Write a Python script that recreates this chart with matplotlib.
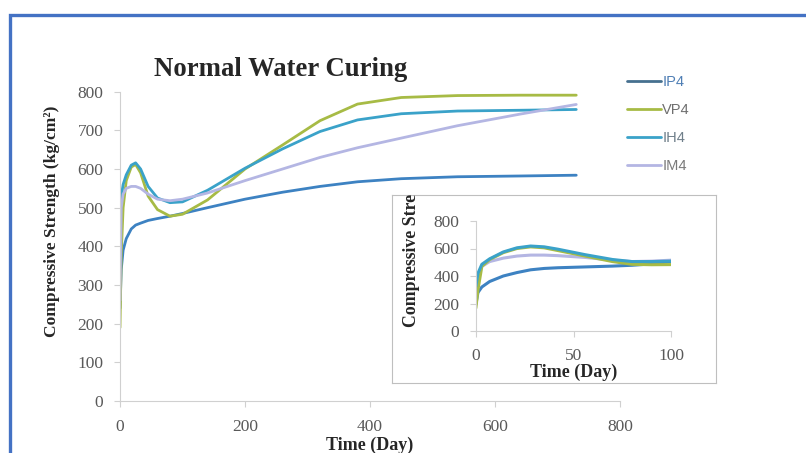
import matplotlib
matplotlib.use("Agg")
import matplotlib.pyplot as plt
from matplotlib.patches import Rectangle

# main chart data
days = [0, 2, 5, 10, 18, 25, 33, 45, 60, 80, 100, 140, 200, 260, 320, 380, 450, 540, 640, 730]
ip4 = [240, 340, 390, 420, 445, 455, 460, 467, 472, 478, 485, 500, 522, 540, 555, 567, 575, 580, 582, 584]
vp4 = [190, 380, 500, 570, 605, 612, 590, 530, 495, 478, 483, 520, 600, 662, 725, 768, 785, 790, 791, 791]
ih4 = [480, 530, 560, 585, 610, 616, 600, 555, 525, 513, 515, 545, 602, 652, 697, 727, 743, 750, 752, 754]
im4 = [260, 500, 535, 550, 555, 555, 550, 535, 522, 518, 522, 538, 570, 600, 630, 655, 680, 712, 742, 767]

# inset (first 100 days)
days_in = [0, 1, 3, 7, 14, 21, 28, 35, 42, 56, 70, 80, 90, 100]
ip4_in = [200, 280, 320, 360, 400, 425, 445, 455, 460, 466, 472, 478, 488, 505]
vp4_in = [175, 300, 470, 520, 570, 600, 612, 605, 585, 545, 505, 485, 482, 483]
ih4_in = [330, 420, 485, 525, 575, 605, 618, 612, 595, 555, 520, 505, 505, 508]
im4_in = [300, 400, 470, 505, 530, 545, 552, 552, 548, 535, 515, 505, 508, 515]

names = ["IP4", "VP4", "IH4", "IM4"]
colors = ["#3d82c2", "#a7bb45", "#3aa2c9", "#b4b6e3"]
legend_text = ["#4f7fb5", "#6f6f6f", "#6f7f8a", "#7a7a7a"]

serif = "Liberation Serif"
gray = "#595959"
spine = "#d0d0d0"
dark = "#262626"

W, H = 806, 453
fig = plt.figure(figsize=(W / 100, H / 100), dpi=100)

# blue frame (only top and left visible)
fig.add_artist(Rectangle((9.5 / W, -0.1), 1.2, 1 - 15 / H + 0.1, transform=fig.transFigure,
                         fill=False, edgecolor="#4472c4", lw=2.4))

ax = fig.add_axes([120 / W, 1 - 401 / H, 500 / W, 309.3 / H])
main_series = [ip4, vp4, ih4, im4]
for name, ys, c in zip(names, main_series, colors):
    ax.plot(days, ys, color=c, lw=2.0, label=name, solid_capstyle="round")
ax.set_xlim(0, 800)
ax.set_ylim(0, 800)
ax.set_xticks([0, 200, 400, 600, 800])
ax.set_yticks(range(0, 801, 100))
for s in ["top", "right"]:
    ax.spines[s].set_visible(False)
for s in ["left", "bottom"]:
    ax.spines[s].set_color(spine)
ax.tick_params(colors=spine, length=4, labelcolor=gray, labelsize=12.5)
ax.tick_params(axis="x", pad=9)
ax.tick_params(axis="y", pad=8)
for lab in ax.get_xticklabels() + ax.get_yticklabels():
    lab.set_fontfamily(serif)

fig.text(281 / W, 1 - 69 / H, "Normal Water Curing", family=serif, weight="bold",
         size=19.3, color=dark, ha="center", va="center")
ax.set_xlabel("Time (Day)", family=serif, weight="bold", size=13, color=dark)
ax.xaxis.set_label_coords(0.5, -0.115)
ax.set_ylabel("Compressive Strength (kg/cm²)", family=serif, weight="bold", size=12.5, color=dark)
ax.yaxis.set_label_coords(-0.12, 0.58)

leg = fig.legend(loc="upper left", bbox_to_anchor=(614 / W, 1 - 62 / H), frameon=False,
                 prop={"family": "Liberation Sans", "size": 10.5}, handlelength=2.3,
                 handletextpad=0.1, labelspacing=0.95)
for t, c in zip(leg.get_texts(), legend_text):
    t.set_color(c)
leg.get_lines()[0].set_color("#46708f")

# inset box
box = [392 / W, 1 - 383 / H, 324 / W, 188 / H]
ax_box = fig.add_axes(box, zorder=1)
ax_box.set_xticks([])
ax_box.set_yticks([])
for s in ax_box.spines.values():
    s.set_color("#bfbfbf")
txt = fig.text(411 / W, 1 - 327 / H, "Compressive Strength (kg/cm²)", rotation=90,
               family=serif, weight="bold", size=12.8, color=dark, ha="center", va="bottom")
txt.set_clip_box(ax_box.bbox)
txt.set_clip_on(True)
txt.set_zorder(3)

ax_in = fig.add_axes([476 / W, 1 - 331 / H, 195 / W, 110 / H], zorder=2)
ax_in.patch.set_alpha(0)
inset_series = [ip4_in, vp4_in, ih4_in, im4_in]
order = [3, 0, 1, 2]
for i in order:
    ax_in.plot(days_in, inset_series[i], color=colors[i], lw=2.2)
ax_in.set_xlim(0, 100)
ax_in.set_ylim(0, 800)
ax_in.set_xticks([0, 50, 100])
ax_in.set_yticks([0, 200, 400, 600, 800])
for s in ["top", "right"]:
    ax_in.spines[s].set_visible(False)
for s in ["left", "bottom"]:
    ax_in.spines[s].set_color(spine)
ax_in.tick_params(colors=spine, length=4, labelcolor=gray, labelsize=12.5)
ax_in.tick_params(axis="x", pad=8)
ax_in.tick_params(axis="y", pad=8)
for lab in ax_in.get_xticklabels() + ax_in.get_yticklabels():
    lab.set_fontfamily(serif)
ax_in.set_xlabel("Time (Day)", family=serif, weight="bold", size=13, color=dark)
ax_in.xaxis.set_label_coords(0.5, -0.30)

fig.savefig("out.png", dpi=100)
